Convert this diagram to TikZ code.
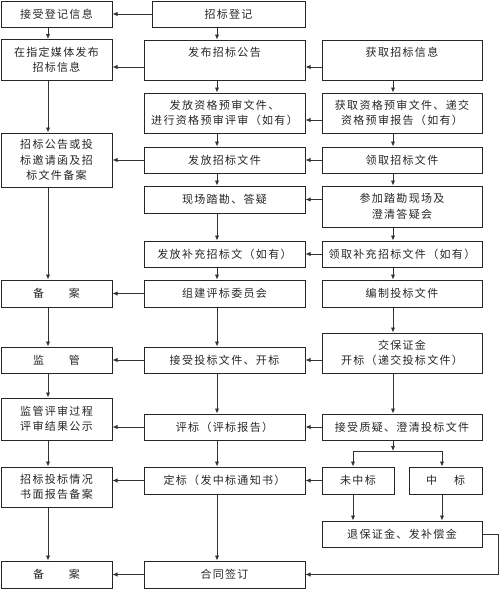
\documentclass[tikz,border=0pt]{standalone}
\usepackage{fontspec}
\newfontfamily\cjk[LetterSpace=12]{Noto Sans CJK SC}
\usetikzlibrary{arrows.meta}

\begin{document}
\begin{tikzpicture}[x=1pt, y=-1pt,
    every node/.style={font=\cjk\fontsize{11}{15.5}\selectfont, text=black!85},
    box/.style={draw=black!85, line width=1pt, inner sep=0pt, align=center},
    colL/.style={box, minimum width=111pt},
    colM/.style={box, minimum width=161pt},
    colR/.style={box, minimum width=160pt},
    arrow/.style={-{Latex[length=5pt,width=4.5pt]}, draw=black!80, line width=0.9pt},
    link/.style={draw=black!80, line width=0.9pt}]
    \useasboundingbox (0,0) rectangle (500,589);

    % column lines for the vertical arrows
    \coordinate (cl) at (48,0);
    \coordinate (cm) at (217,0);
    \coordinate (cr) at (393,0);
    \coordinate (bl) at (353,0);
    \coordinate (bw) at (442,0);

    % left column
    \node[colL, minimum height=26pt] (recv) at (56.5,14) {接受登记信息};
    \node[colL, minimum height=41pt] (media) at (56.5,60) {在指定媒体发布\\招标信息};
    \node[colL, minimum height=54pt] (filing) at (56.5,160) {招标公告或投\\标邀请函及招\\标文件备案};
    \node[colL, minimum height=27pt] (recA) at (56.5,293.5) {备\hspace{25pt}案};
    \node[colL, minimum height=26pt] (super) at (56.5,360) {监\hspace{25pt}管};
    \node[colL, minimum height=42pt] (publicity) at (56.5,419) {监管评审过程\\评审结果公示};
    \node[colL, minimum height=40pt] (report) at (56.5,487) {招标投标情况\\书面报告备案};
    \node[colL, minimum height=27pt] (recB) at (56.5,574.5) {备\hspace{25pt}案};

    % middle column
    \node[box, minimum width=153pt, minimum height=26pt] (reg) at (228.5,14) {招标登记};
    \node[colM, minimum height=40pt] (notice) at (224.5,60) {发布招标公告\\\mbox{}};
    \node[colM, minimum height=40pt] (prequal) at (224.5,113) {发放资格预审文件、\\进行资格预审评审（如有）};
    \node[colM, minimum height=26pt] (issue) at (224.5,160) {发放招标文件};
    \node[colM, minimum height=27pt] (survey) at (224.5,199.5) {现场踏勘、答疑};
    \node[colM, minimum height=26pt] (supp) at (224.5,254) {发放补充招标文（如有）};
    \node[colM, minimum height=27pt] (panel) at (224.5,293.5) {组建评标委员会};
    \node[colM, minimum height=26pt] (open) at (224.5,360) {接受投标文件、开标};
    \node[colM, minimum height=26pt] (evaluate) at (224.5,427) {评标（评标报告）};
    \node[colM, minimum height=27pt] (award) at (224.5,480.5) {定标（发中标通知书）};
    \node[colM, minimum height=27pt] (contract) at (224.5,574.5) {合同签订};

    % right column
    \node[colR, minimum height=40pt] (info) at (402,60) {获取招标信息\\\mbox{}};
    \node[colR, minimum height=40pt] (getpre) at (402,113) {获取资格预审文件、递交\\资格预审报告（如有）};
    \node[colR, minimum height=26pt] (fetch) at (402,160) {领取招标文件};
    \node[colR, minimum height=41pt] (visit) at (402,206.5) {参加踏勘现场及\\澄清答疑会};
    \node[colR, minimum height=26pt] (getsupp) at (402,254) {领取补充招标文件（如有）};
    \node[colR, minimum height=27pt] (prepare) at (402,293.5) {编制投标文件};
    \node[colR, minimum height=40pt] (bond) at (402,353) {交保证金\\开标（递交投标文件）};
    \node[colR, minimum height=26pt] (query) at (402,427) {接受质疑、澄清投标文件};
    \node[box, minimum width=72pt, minimum height=27pt] (lose) at (358,480.5) {未中标};
    \node[box, minimum width=73pt, minimum height=27pt] (win) at (445.5,480.5) {中\hspace{17pt}标};
    \node[colR, minimum height=26pt] (refund) at (402,534) {退保证金、发补偿金};

    % vertical arrows, left
    \draw[arrow] (recv.south -| cl) -- (media.north -| cl);
    \draw[arrow] (media.south -| cl) -- (filing.north -| cl);
    \draw[arrow] (filing.south -| cl) -- (recA.north -| cl);
    \draw[arrow] (recA.south -| cl) -- (super.north -| cl);
    \draw[arrow] (super.south -| cl) -- (publicity.north -| cl);
    \draw[arrow] (publicity.south -| cl) -- (report.north -| cl);
    \draw[arrow] (report.south -| cl) -- (recB.north -| cl);

    % vertical arrows, middle
    \draw[arrow] (reg.south -| cm) -- (notice.north -| cm);
    \draw[arrow] (notice.south -| cm) -- (prequal.north -| cm);
    \draw[arrow] (prequal.south -| cm) -- (issue.north -| cm);
    \draw[arrow] (issue.south -| cm) -- (survey.north -| cm);
    \draw[arrow] (survey.south -| cm) -- (supp.north -| cm);
    \draw[arrow] (supp.south -| cm) -- (panel.north -| cm);
    \draw[arrow] (panel.south -| cm) -- (open.north -| cm);
    \draw[arrow] (open.south -| cm) -- (evaluate.north -| cm);
    \draw[arrow] (evaluate.south -| cm) -- (award.north -| cm);
    \draw[arrow] (award.south -| cm) -- (contract.north -| cm);

    % vertical arrows, right
    \draw[arrow] (info.south -| cr) -- (getpre.north -| cr);
    \draw[arrow] (getpre.south -| cr) -- (fetch.north -| cr);
    \draw[arrow] (fetch.south -| cr) -- (visit.north -| cr);
    \draw[arrow] (visit.south -| cr) -- (getsupp.north -| cr);
    \draw[arrow] (getsupp.south -| cr) -- (prepare.north -| cr);
    \draw[arrow] (prepare.south -| cr) -- (bond.north -| cr);
    \draw[arrow] (bond.south -| cr) -- (query.north -| cr);

    % fork below the query box
    \coordinate (fork) at (393,451);
    \draw[arrow] (query.south -| cr) -- (fork);
    \draw[arrow] (fork) -| (lose.north -| bl);
    \draw[arrow] (fork) -| (win.north -| bw);
    \draw[arrow] (lose.south -| bl) -- (refund.north -| bl);
    \draw[arrow] (win.south -| bw) -- (refund.north -| bw);

    % horizontal arrows
    \draw[arrow] (reg.west) -- (recv.east);
    \draw[arrow] ([yshift=-7pt]notice.west) -- ([yshift=-7pt]media.east);
    \draw[arrow] ([yshift=-7pt]info.west) -- ([yshift=-7pt]notice.east);
    \draw[arrow] ([yshift=-7pt]getpre.west) -- ([yshift=-7pt]prequal.east);
    \draw[arrow] (issue.west) -- (filing.east);
    \draw[arrow] (fetch.west) -- (issue.east);
    \draw[arrow] (visit.west |- survey.east) -- (survey.east);
    \draw[arrow] (getsupp.west) -- (supp.east);
    \draw[arrow] (panel.west) -- (recA.east);
    \draw[arrow] (open.west) -- (super.east);
    \draw[arrow] (bond.west |- open.east) -- (open.east);
    \draw[arrow] (evaluate.west) -- (evaluate.west -| publicity.east);
    \draw[arrow] (query.west) -- (evaluate.east);
    \draw[arrow] (award.west) -- (award.west -| report.east);
    \draw[arrow] (lose.west) -- (award.east);
    \draw[arrow] (contract.west) -- (recB.east);

    % return line from the refund box
    \coordinate (loop) at (498,574.5);
    \draw[arrow] (refund.east) -| (loop) -- (contract.east);
\end{tikzpicture}
\end{document}
